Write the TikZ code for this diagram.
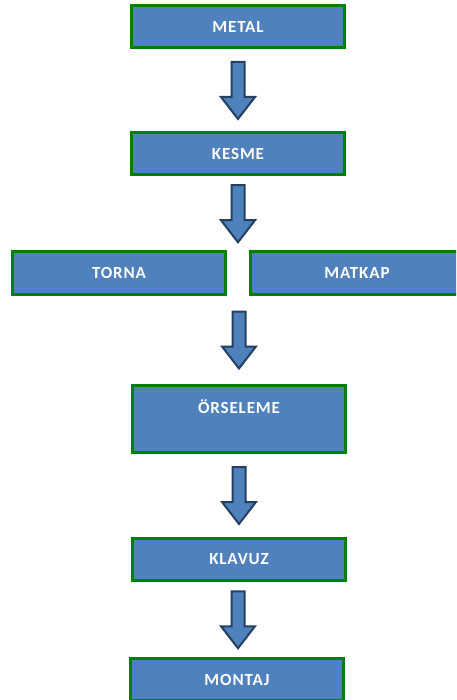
\documentclass[tikz,border=0pt]{standalone}
\usepackage{fontspec}
\setmainfont{Carlito}
\usetikzlibrary{calc}
\definecolor{boxblue}{RGB}{79,129,189}
\definecolor{boxgreen}{RGB}{0,128,0}
\definecolor{arrowline}{RGB}{36,64,97}
\tikzset{
  box/.style={draw=boxgreen, line width=3pt, fill=boxblue, text=white,
    minimum width=213pt, minimum height=42pt, inner sep=0pt,
    font=\fontsize{17}{20}\selectfont\bfseries\addfontfeatures{LetterSpace=5}},
  blockarrow/.pic={
    \draw[arrowline, line width=2pt, fill=boxblue, line join=miter]
      (-6.5,-28) -- (6.5,-28) -- (6.5,7) -- (17,7) -- (0,29) -- (-17,7) -- (-6.5,7) -- cycle;
  }
}
\begin{document}
\begin{tikzpicture}[x=1pt,y=-1pt]
\useasboundingbox (0,0) rectangle (456,700);
\clip (0,0) rectangle (456,700);
\node[box] (metal) at (238,26.5) {METAL};
\node[box] (kesme) at (238,153.5) {KESME};
\node[box] (torna) at (119,273) {TORNA};
\node[box] (matkap) at (357,273) {MATKAP};
\node[box, minimum height=0pt, text height=28pt, text depth=39pt, anchor=north] (orseleme) at (239,383.5) {ÖRSELEME};
\node[box] (klavuz) at (239,559) {KLAVUZ};
\node[box] (montaj) at (237,679.5) {MONTAJ};
\pic at ($(metal.south)!0.5!(kesme.north)$) {blockarrow};
\pic at ($(kesme.south)!0.5!(kesme.south|-torna.north)$) {blockarrow};
\pic at ($(orseleme.north|-torna.south)!0.5!(orseleme.north)$) {blockarrow};
\pic at ($(orseleme.south)!0.5!(klavuz.north)$) {blockarrow};
\pic at ($(klavuz.south)!0.5!(montaj.north)$) {blockarrow};
\end{tikzpicture}
\end{document}
